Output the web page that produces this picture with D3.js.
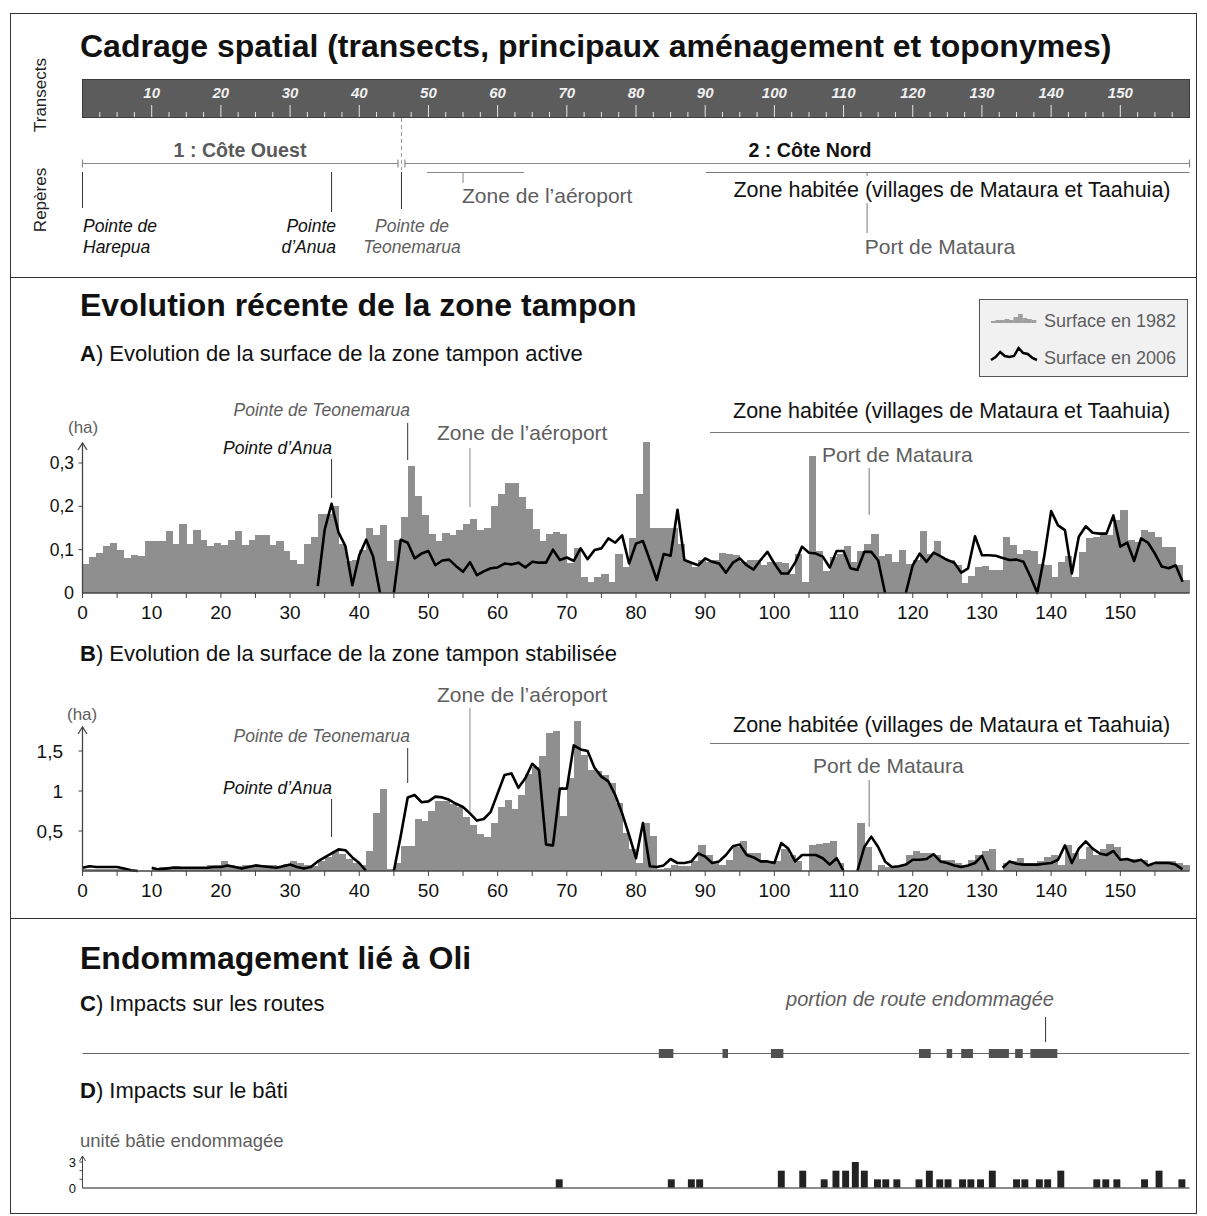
<!DOCTYPE html>
<html>
<head>
<meta charset="utf-8">
<script src="https://cdn.jsdelivr.net/npm/d3@7"></script>
<style>
  body { margin: 0; background: #fff; }
  svg text { font-family: "Liberation Sans", Arial, sans-serif; }
</style>
</head>
<body>
<script>
// transect index 0..159, one bar per transect
const transects = d3.range(160);

// A) zone tampon active [ha]
const surf1982A = [
  .066,.083,.093,.108,.116,.100,.080,.088,.085,.119,
  .121,.121,.144,.112,.160,.113,.146,.123,.108,.116,
  .111,.123,.144,.111,.123,.133,.133,.111,.119,.097,
  .077,.068,.113,.130,.183,.183,.200,.112,.075,.077,
  .099,.150,.133,.156,.075,.123,.175,.293,.225,.181,
  .136,.121,.139,.133,.145,.160,.171,.145,.150,.200,
  .229,.254,.255,.221,.195,.148,.120,.136,.140,.137,
  .070,.105,.038,.025,.036,.045,.025,.091,.060,.128,
  .228,.348,.149,.149,.149,.149,.113,.072,.060,.076,
  .072,.076,.093,.090,.087,.072,.076,.076,.064,.072,
  .072,.070,.045,.091,.025,.317,.097,.050,.083,.091,
  .109,.072,.097,.113,.136,.086,.089,.072,.099,.068,
  .076,.143,.091,.120,.080,.076,.064,.024,.039,.059,
  .062,.053,.053,.130,.110,.091,.099,.097,.068,.064,
  .038,.072,.086,.036,.095,.126,.130,.133,.133,.169,
  .191,.122,.118,.146,.141,.130,.107,.107,.065,.030
];
const surf2006A = [
  null,null,null,null,null,null,null,null,null,null,
  null,null,null,null,null,null,null,null,null,null,
  null,null,null,null,null,null,null,null,null,null,
  null,null,null,null,.016,.146,.206,.140,.108,.018,
  .087,.123,.084,0,null,0,.123,.116,.080,.091,
  .097,.064,.075,.077,.062,.049,.071,.041,.050,.057,
  .059,.068,.066,.070,.059,.072,.070,.070,.100,.076,
  .082,.074,.103,.078,.099,.103,.126,.116,.133,.068,
  .114,.120,.076,.030,.090,.086,.192,.076,.070,.064,
  .080,.072,.068,.047,.070,.080,.064,.054,.076,.095,
  .068,.045,.045,.070,.107,.093,.091,.084,.059,.097,
  .097,.057,.053,.095,.095,.075,0,null,null,0,
  .064,.091,.072,.093,.085,.076,.070,.047,.057,.131,
  .087,.087,.086,.081,.076,.077,.072,.038,0,.084,
  .189,.156,.145,.045,.130,.154,.139,.137,.137,.179,
  .107,.116,.074,.126,.116,.091,.061,.057,.064,.026
];

// B) zone tampon stabilisée [ha]
const surf1982B = [
  .02,.03,.03,.02,.02,.02,.01,0,0,0,
  .04,.05,.05,.06,.05,.05,.05,.05,.08,.08,
  .13,.08,.06,.07,.08,.08,.07,.07,.06,.09,
  .13,.10,.07,.06,.12,.17,.25,.21,.15,.10,
  .08,.25,.73,1.02,.03,.10,.31,.31,.65,.62,
  .75,.88,.88,.84,.80,.67,.57,.46,.43,.60,
  .80,.89,.78,.95,1.21,1.30,1.44,1.72,1.75,.69,
  1.16,1.88,1.45,1.26,1.25,1.20,1.10,.85,.48,.28,
  .10,.60,.44,.03,.04,.08,.06,.06,.12,.32,
  .20,.10,.08,.14,.30,.38,.22,.22,.12,.12,
  .12,.28,.20,.12,0,.33,.34,.35,.38,.10,
  0,0,.60,.30,0,.08,.05,.06,.08,.20,
  .25,.22,.22,.20,.14,.14,.10,.08,.14,.20,
  .25,.28,0,.10,.13,.16,.10,.10,.12,.17,
  .20,.08,.32,.22,.15,.30,.20,.28,.34,.30,
  .15,.15,.15,.14,.08,.13,.12,.12,.10,.07
];
const surf2006B = [
  .04,.06,.05,.05,.05,.05,.03,.01,0,null,
  .04,.02,.03,.04,.04,.04,.04,.04,.04,.05,
  .05,.07,.05,.03,.05,.07,.06,.05,.04,.06,
  .08,.05,.03,.05,.12,.17,.22,.27,.26,.17,
  .10,0,null,null,null,0,.44,.92,.95,.86,
  .87,.93,.92,.89,.84,.80,.72,.63,.65,.74,
  .97,1.20,1.22,1.04,1.16,1.34,1.26,.33,.32,1.03,
  1.03,1.57,1.52,1.50,1.29,1.18,1.12,.95,.72,.45,
  .16,.60,.06,.05,.07,.15,.10,.10,.12,.22,
  .18,.10,.12,.20,.31,.33,.20,.17,.12,.12,
  .10,.35,.28,.12,.20,.20,.20,.16,.08,.16,
  0,null,0,.30,.43,.30,.12,.05,.06,.08,
  .14,.14,.15,.21,.12,.10,.07,.05,.07,.10,
  .19,0,null,.04,.12,.09,.08,.08,.08,.09,
  .10,.14,.32,.10,.28,.37,.28,.22,.20,.25,
  .14,.15,.12,.14,.07,.10,.10,.10,.08,.02
];

// C) portions de route endommagées (transect début / fin)
const roadStart = [83.3, 92.5, 99.5, 120.9, 124.9, 127.0, 131.0, 134.8, 137.0];
const roadEnd   = [85.4, 93.3, 101.3, 122.6, 125.7, 128.7, 133.9, 135.9, 140.9];

// D) unités bâties endommagées (position le long des transects, nombre)
const batiPos   = [68.4, 84.6, 87.5, 88.7, 100.5, 103.6, 106.7, 108.4, 109.8, 111.2, 112.5,
                   114.4, 115.6, 117.2, 120.4, 121.9, 123.4, 124.6, 126.7, 127.9, 129.3,
                   131.0, 134.5, 135.7, 137.8, 139.0, 140.9, 146.1, 147.4, 149.0, 153.0,
                   155.1, 158.4];
const batiCount = [1, 1, 1, 1, 2, 2, 1, 2, 2, 3, 2,
                   1, 1, 1, 1, 2, 1, 1, 1, 1, 1,
                   2, 1, 1, 1, 1, 2, 1, 1, 1, 1,
                   2, 1];

const axisTicks = d3.range(0, 160, 10);      // 0..150
const barTicks = d3.range(10, 160, 10);      // labels in the transect bar
const yTicksA = [0.1, 0.2, 0.3];
const yTicksB = [0.5, 1, 1.5];

const W = 1207, H = 1216;
const grey = "#8f8f8f", txtGrey = "#5e5e5e", axisCol = "#444";
const fr = d3.formatLocale({decimal: ",", thousands: " ", grouping: [3], currency: ["", "€"]});
const fmtY = d => d === 0 ? "0" : (Number.isInteger(d) ? String(d) : fr.format(".1f")(d));

const svg = d3.select("body").append("svg")
    .attr("width", W).attr("height", H);

svg.append("rect").attr("width", W).attr("height", H).attr("fill", "#fff");

const x = d3.scaleLinear().domain([0, 160]).range([82.5, 1189.5]);

// frame and section separators
svg.append("rect")
    .attr("x", 10.5).attr("y", 13.5).attr("width", 1186).attr("height", 1200)
    .attr("fill", "none").attr("stroke", "#333").attr("stroke-width", 1);
[277.5, 918.5].forEach(yy => svg.append("line")
    .attr("x1", 10.5).attr("x2", 1196.5).attr("y1", yy).attr("y2", yy)
    .attr("stroke", "#333"));

function text(g, str, px, py, opts = {}) {
    return g.append("text")
        .attr("x", px).attr("y", py)
        .attr("font-size", opts.size || 20)
        .attr("font-weight", opts.weight || "normal")
        .attr("font-style", opts.style || "normal")
        .attr("fill", opts.fill || "#111")
        .attr("text-anchor", opts.anchor || "start")
        .text(str);
}
function vline(g, xx, y1, y2, col = "#555", w = 1) {
    g.append("line").attr("x1", xx).attr("x2", xx).attr("y1", y1).attr("y2", y2)
        .attr("stroke", col).attr("stroke-width", w);
}
function hline(g, x1, x2, yy, col = "#555", w = 1) {
    g.append("line").attr("x1", x1).attr("x2", x2).attr("y1", yy).attr("y2", yy)
        .attr("stroke", col).attr("stroke-width", w);
}

// ---------- section 1 : cadrage spatial ----------
const gTop = svg.append("g");
text(gTop, "Cadrage spatial (transects, principaux aménagement et toponymes)", 80, 57, {size: 32, weight: "bold"});

gTop.append("text").attr("transform", "translate(46,95) rotate(-90)")
    .attr("text-anchor", "middle").attr("font-size", 17).attr("fill", "#222").text("Transects");
gTop.append("text").attr("transform", "translate(46,200) rotate(-90)")
    .attr("text-anchor", "middle").attr("font-size", 17).attr("fill", "#222").text("Repères");

gTop.append("rect")
    .attr("x", x(0)).attr("y", 79.5).attr("width", x(160) - x(0)).attr("height", 38)
    .attr("fill", "#5c5c5c").attr("stroke", "#3c3c3c");
gTop.selectAll(".tt").data(d3.range(2.5, 160, 2.5)).join("line")
    .attr("x1", d => x(d)).attr("x2", d => x(d))
    .attr("y1", 117).attr("y2", d => d % 10 === 0 ? 105 : 112)
    .attr("stroke", "#e6e6e6").attr("stroke-width", 1);
gTop.selectAll(".tl").data(barTicks).join("text")
    .attr("x", d => x(d)).attr("y", 98)
    .attr("text-anchor", "middle").attr("font-size", 15)
    .attr("font-weight", "bold").attr("font-style", "italic")
    .attr("fill", "#f0f0f0").text(d => d);

// coast brackets
const bracketY = 163.5;
function bracket(x1, x2, col) {
    hline(gTop, x1, x2, bracketY, col, 1.2);
    vline(gTop, x1, bracketY - 4, bracketY + 4, col, 1.2);
    vline(gTop, x2, bracketY - 4, bracketY + 4, col, 1.2);
}
bracket(x(0), x(45.6), "#8a8a8a");
bracket(x(46.6), x(160), "#8a8a8a");
gTop.append("line").attr("x1", x(46.1)).attr("x2", x(46.1)).attr("y1", 118).attr("y2", 170)
    .attr("stroke", "#999").attr("stroke-dasharray", "4,3");
text(gTop, "1 : Côte Ouest", 240, 157, {size: 19.6, weight: "bold", fill: "#5a5a5a", anchor: "middle"});
text(gTop, "2 : Côte Nord", 810, 157, {size: 19.6, weight: "bold", fill: "#111", anchor: "middle"});

// repères
vline(gTop, x(0), 172, 208, "#333");
vline(gTop, x(36), 172, 212, "#333");
vline(gTop, x(46.1), 172, 209, "#333");
text(gTop, "Pointe de", 83, 232, {size: 17.5, style: "italic"});
text(gTop, "Harepua", 83, 253, {size: 17.5, style: "italic"});
text(gTop, "Pointe", 336, 232, {size: 17.5, style: "italic", anchor: "end"});
text(gTop, "d’Anua", 336, 253, {size: 17.5, style: "italic", anchor: "end"});
text(gTop, "Pointe de", 412, 232, {size: 17.5, style: "italic", anchor: "middle", fill: txtGrey});
text(gTop, "Teonemarua", 412, 253, {size: 17.5, style: "italic", anchor: "middle", fill: txtGrey});

hline(gTop, x(49.8), x(63.8), 172.5, "#888");
vline(gTop, x(55), 172, 183, "#888");
text(gTop, "Zone de l’aéroport", 462, 203, {size: 21, fill: txtGrey});

hline(gTop, x(90.1), x(160), 172.5, "#777");
text(gTop, "Zone habitée (villages de Mataura et Taahuia)", 952, 197, {size: 21.5, anchor: "middle"});
vline(gTop, x(113.4), 172, 176, "#777");
vline(gTop, x(113.4), 203, 233, "#777");
text(gTop, "Port de Mataura", 940, 254, {size: 21, fill: txtGrey, anchor: "middle"});

// ---------- section 2 : évolution de la zone tampon ----------
const gMid = svg.append("g");
text(gMid, "Evolution récente de la zone tampon", 80, 316, {size: 32, weight: "bold"});

const tA = text(gMid, "", 80, 361, {size: 22});
tA.append("tspan").attr("font-weight", "bold").text("A");
tA.append("tspan").text(") Evolution de la surface de la zone tampon active");
const tB = text(gMid, "", 80, 661, {size: 22});
tB.append("tspan").attr("font-weight", "bold").text("B");
tB.append("tspan").text(") Evolution de la surface de la zone tampon stabilisée");

// legend
const legendBars = [2, 3, 3, 4, 3, 6, 9, 5, 4, 3];
const legendLine = [2, 5, 10, 6, 5, 6, 14, 9, 8, 4, 2];
const leg = gMid.append("g");
leg.append("rect").attr("x", 979.5).attr("y", 299.5).attr("width", 208).attr("height", 77)
    .attr("fill", "#f1f1f1").attr("stroke", "#555");
const lx = d3.scaleLinear().domain([0, legendBars.length]).range([991, 1036]);
leg.selectAll(".lb").data(legendBars).join("rect")
    .attr("x", (d, i) => lx(i)).attr("width", lx(1) - lx(0) + 0.3)
    .attr("y", d => 323 - d).attr("height", d => d).attr("fill", "#a0a0a0");
const llx = d3.scaleLinear().domain([0, legendLine.length - 1]).range([991, 1037]);
leg.append("path").datum(legendLine)
    .attr("d", d3.line().x((d, i) => llx(i)).y(d => 362 - d))
    .attr("fill", "none").attr("stroke", "#000").attr("stroke-width", 2.5);
text(leg, "Surface en 1982", 1044, 327, {size: 18, fill: txtGrey});
text(leg, "Surface en 2006", 1044, 364, {size: 18, fill: txtGrey});

function drawChart(g, y, yTop, bars, line, yTicks, labelX, labelSize, xLabelY) {
    g.selectAll(".bar").data(bars).join("rect")
        .attr("x", (d, i) => x(i)).attr("width", (d, i) => x(i + 1) - x(i) + 0.4)
        .attr("y", d => y(d)).attr("height", d => y(0) - y(d))
        .attr("fill", grey).attr("shape-rendering", "crispEdges");
    g.append("path").datum(line)
        .attr("d", d3.line().defined(d => d != null).x((d, i) => x(i)).y(d => y(d)))
        .attr("fill", "none").attr("stroke", "#000").attr("stroke-width", 2.6)
        .attr("stroke-linejoin", "round");
    // x axis
    hline(g, x(0), x(160), y(0), axisCol, 1.3);
    g.selectAll(".xt").data(d3.range(0, 160, 5)).join("line")
        .attr("x1", d => x(d)).attr("x2", d => x(d))
        .attr("y1", y(0)).attr("y2", y(0) + 5).attr("stroke", axisCol);
    g.selectAll(".xl").data(axisTicks).join("text")
        .attr("x", d => x(d)).attr("y", xLabelY).attr("text-anchor", "middle")
        .attr("font-size", 19).attr("fill", "#111").text(d => d);
    // y axis with arrow
    vline(g, x(0), y(0), yTop, axisCol, 1.3);
    g.append("path").attr("d", `M${x(0) - 4.5},${yTop + 7}L${x(0)},${yTop}L${x(0) + 4.5},${yTop + 7}`)
        .attr("fill", "none").attr("stroke", axisCol).attr("stroke-width", 1.3);
    g.selectAll(".yt").data(yTicks).join("line")
        .attr("x1", x(0) - 4).attr("x2", x(0)).attr("y1", d => y(d)).attr("y2", d => y(d))
        .attr("stroke", axisCol);
    g.selectAll(".yl").data(yTicks).join("text")
        .attr("x", labelX).attr("y", d => y(d)).attr("dy", "0.35em")
        .attr("text-anchor", "end").attr("font-size", labelSize).attr("fill", "#111").text(fmtY);
}

// chart A
const yA = d3.scaleLinear().domain([0, 0.3]).range([593, 463]);
const gA = gMid.append("g");
drawChart(gA, yA, 443, surf1982A, surf2006A, yTicksA, 74, 17.5, 619);
text(gA, "0", 74, 593, {size: 18, anchor: "end"}).attr("dy", "0.35em");
text(gA, "(ha)", 68, 433, {size: 17, fill: txtGrey});
text(gA, "Pointe de Teonemarua", 410, 416, {size: 17.5, style: "italic", anchor: "end", fill: txtGrey});
vline(gA, x(47), 423, 460, "#333");
text(gA, "Pointe d’Anua", 332, 454, {size: 17.5, style: "italic", anchor: "end"});
vline(gA, x(36), 459, 498, "#333");
text(gA, "Zone de l’aéroport", 437, 440, {size: 21, fill: txtGrey});
vline(gA, x(56), 448, 507, "#888");
text(gA, "Zone habitée (villages de Mataura et Taahuia)", 733, 418, {size: 21.5});
hline(gA, x(90.7), x(160), 432.5, "#777");
text(gA, "Port de Mataura", 822, 462, {size: 21, fill: txtGrey});
vline(gA, x(113.7), 468, 515, "#777");

// chart B
const yB = d3.scaleLinear().domain([0, 1.5]).range([871, 751]);
const gB = gMid.append("g");
drawChart(gB, yB, 727, surf1982B, surf2006B, yTicksB, 63, 19, 897);
text(gB, "(ha)", 67, 720, {size: 17, fill: txtGrey});
text(gB, "Zone de l’aéroport", 437, 702, {size: 21, fill: txtGrey});
vline(gB, x(56), 708, 812, "#888");
text(gB, "Pointe de Teonemarua", 410, 742, {size: 17.5, style: "italic", anchor: "end", fill: txtGrey});
vline(gB, x(47), 748, 783, "#333");
text(gB, "Pointe d’Anua", 332, 794, {size: 17.5, style: "italic", anchor: "end"});
vline(gB, x(36), 799, 837, "#333");
text(gB, "Zone habitée (villages de Mataura et Taahuia)", 733, 732, {size: 21.5});
hline(gB, x(90.7), x(160), 743.5, "#777");
text(gB, "Port de Mataura", 813, 773, {size: 21, fill: txtGrey});
vline(gB, x(113.7), 780, 827, "#777");

// ---------- section 3 : endommagement ----------
const gBot = svg.append("g");
text(gBot, "Endommagement lié à Oli", 80, 969, {size: 32, weight: "bold"});
const tC = text(gBot, "", 80, 1011, {size: 22});
tC.append("tspan").attr("font-weight", "bold").text("C");
tC.append("tspan").text(") Impacts sur les routes");
const tD = text(gBot, "", 80, 1098, {size: 22});
tD.append("tspan").attr("font-weight", "bold").text("D");
tD.append("tspan").text(") Impacts sur le bâti");

// roads
const roadY = 1053.5;
hline(gBot, x(0), x(160), roadY, "#666", 1.2);
gBot.selectAll(".road").data(roadStart).join("rect")
    .attr("x", d => x(d)).attr("width", (d, i) => x(roadEnd[i]) - x(d))
    .attr("y", roadY - 4.5).attr("height", 9).attr("fill", "#505050");
text(gBot, "portion de route endommagée", 920, 1006, {size: 20, style: "italic", anchor: "middle", fill: txtGrey});
vline(gBot, x(139.2), 1017, 1042, "#333");

// bâti
const yD = d3.scaleLinear().domain([0, 3]).range([1188, 1162]);
text(gBot, "unité bâtie endommagée", 80, 1147, {size: 18.5, fill: txtGrey});
gBot.selectAll(".bati").data(batiPos).join("rect")
    .attr("x", d => x(d)).attr("width", d => x(d + 1) - x(d))
    .attr("y", (d, i) => yD(batiCount[i])).attr("height", (d, i) => yD(0) - yD(batiCount[i]))
    .attr("fill", "#222");
hline(gBot, x(0), x(160), yD(0), "#666", 1.3);
vline(gBot, x(0), yD(0), 1156, "#444", 1);
gBot.append("path").attr("d", `M${x(0) - 3},${1161}L${x(0)},${1156}L${x(0) + 3},${1161}`)
    .attr("fill", "none").attr("stroke", "#444");
gBot.selectAll(".dyt").data([1, 2, 3]).join("line")
    .attr("x1", x(0) - 3).attr("x2", x(0)).attr("y1", d => yD(d)).attr("y2", d => yD(d))
    .attr("stroke", "#444");
text(gBot, "3", 76, yD(3), {size: 13, anchor: "end"}).attr("dy", "0.35em");
text(gBot, "0", 76, yD(0), {size: 13, anchor: "end"}).attr("dy", "0.35em");
</script>
</body>
</html>
